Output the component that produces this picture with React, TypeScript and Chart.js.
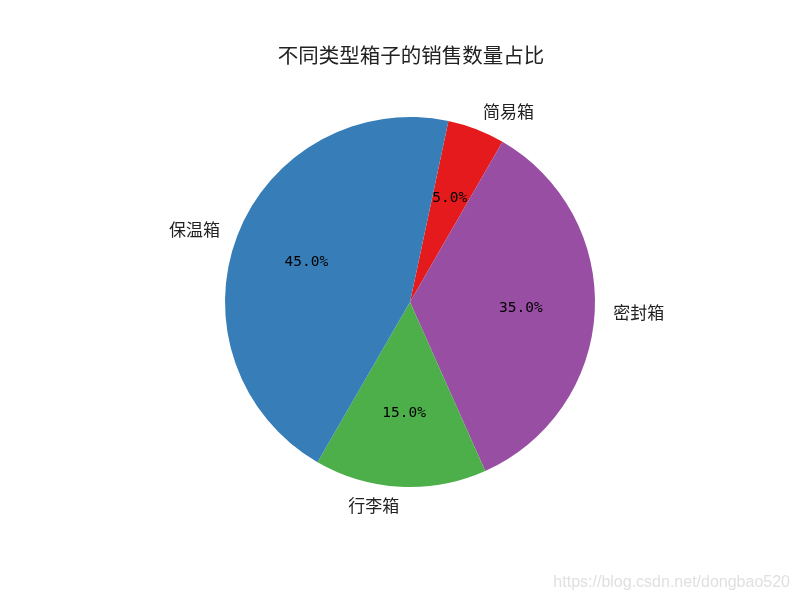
import React, { useEffect, useRef } from 'react';
import { Chart, registerables } from 'chart.js';

Chart.register(...registerables);

// slices listed clockwise from the top (matplotlib drew them counter-clockwise from 60deg)
const labels = ['简易箱', '密封箱', '行李箱', '保温箱'];
const values = [5, 35, 15, 45];
const colors = ['#e41a1c', '#984ea3', '#4daf4a', '#377eb8'];
const title = '不同类型箱子的销售数量占比';
const watermark = 'https://blog.csdn.net/dongbao520';

const cjk = '"Noto Sans CJK SC", "Noto Sans", sans-serif';

const pieText = {
  id: 'pieText',
  afterDraw(chart: any) {
    const { ctx } = chart;
    const meta = chart.getDatasetMeta(0);
    const total = values.reduce((a, b) => a + b, 0);
    ctx.save();
    meta.data.forEach((arc: any, i: number) => {
      const { x, y, startAngle, endAngle, outerRadius } = arc.getProps(
        ['x', 'y', 'startAngle', 'endAngle', 'outerRadius'],
        true
      );
      const mid = (startAngle + endAngle) / 2;
      const cx = Math.cos(mid);
      const cy = Math.sin(mid);

      // percentage inside
      ctx.fillStyle = '#000';
      ctx.font = '14.5px "DejaVu Sans Mono", monospace';
      ctx.textAlign = 'center';
      ctx.textBaseline = 'middle';
      const pct = ((values[i] / total) * 100).toFixed(1) + '%';
      ctx.fillText(pct, x + cx * outerRadius * 0.6, y + cy * outerRadius * 0.6);

      // label outside
      ctx.font = '17px ' + cjk;
      ctx.fillStyle = '#222';
      ctx.textAlign = cx >= 0 ? 'left' : 'right';
      ctx.fillText(labels[i], x + cx * outerRadius * 1.1, y + cy * outerRadius * 1.1);
    });

    ctx.font = '20.5px ' + cjk;
    ctx.fillStyle = '#222';
    ctx.textAlign = 'center';
    ctx.textBaseline = 'middle';
    ctx.fillText(title, 411, 55);

    ctx.font = '16px "Liberation Sans", Arial, sans-serif';
    ctx.fillStyle = '#e0e0e0';
    ctx.textAlign = 'right';
    ctx.fillText(watermark, 790, 583);
    ctx.restore();
  },
};

export default function App() {
  const canvasRef = useRef<HTMLCanvasElement>(null);

  useEffect(() => {
    if (!canvasRef.current) return;
    const chart = new Chart(canvasRef.current, {
      type: 'pie',
      data: {
        labels,
        datasets: [
          {
            data: values,
            backgroundColor: colors,
            borderWidth: 0,
          },
        ],
      },
      options: {
        responsive: false,
        animation: false,
        rotation: 12,
        layout: { padding: { left: 225, right: 205, top: 117, bottom: 113 } },
        plugins: {
          legend: { display: false },
          title: { display: false },
          tooltip: { enabled: false },
        },
      },
      plugins: [pieText],
    });
    return () => chart.destroy();
  }, []);

  return (
    <div style={{ position: 'absolute', left: 0, top: 0, width: 800, height: 600, background: '#fff' }}>
      <canvas ref={canvasRef} width={800} height={600} style={{ width: 800, height: 600 }} />
    </div>
  );
}
